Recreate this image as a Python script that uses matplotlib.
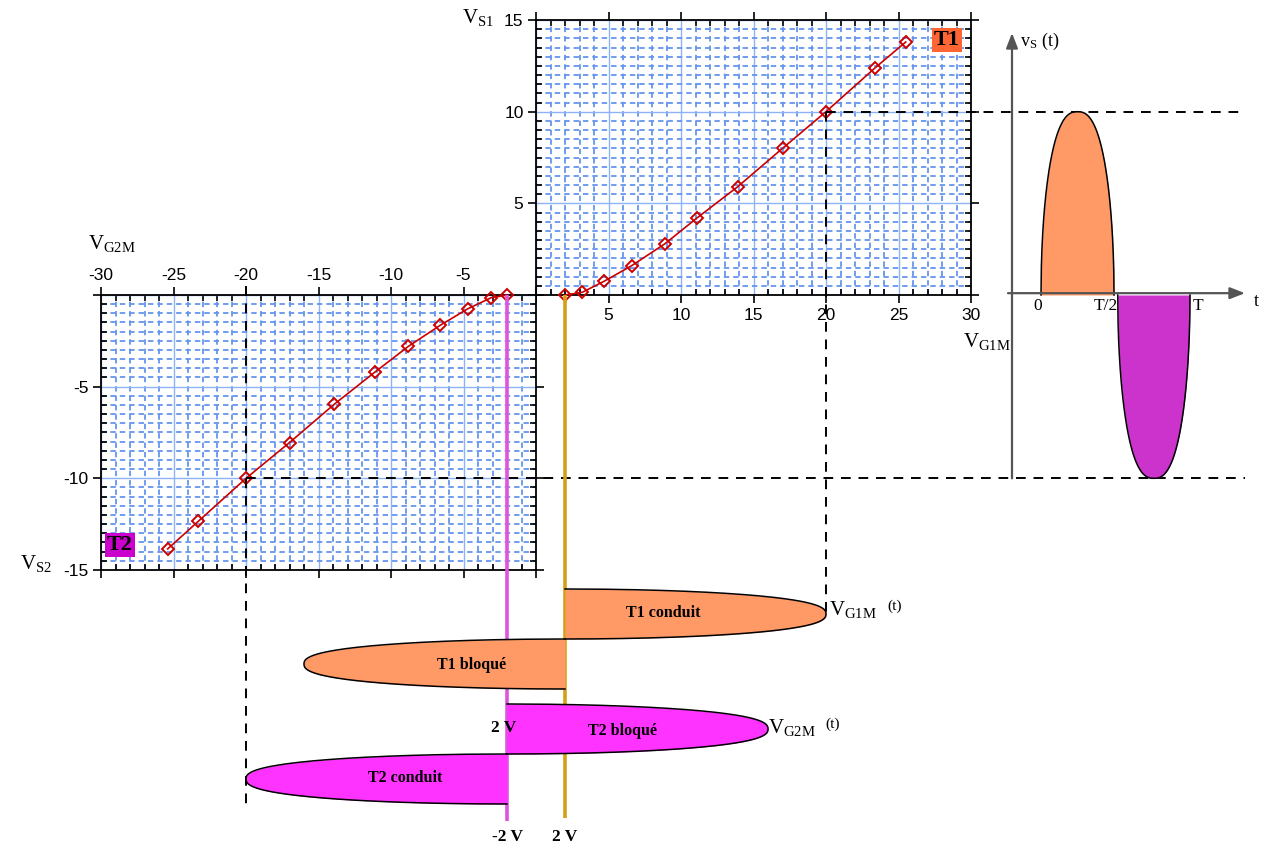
import numpy as np
import matplotlib.pyplot as plt
from matplotlib.ticker import MultipleLocator, FuncFormatter

# transfer characteristic of T1 : V_S1 as a function of V_G1M
vg1m = [2.0, 3.2, 4.7, 6.6, 8.9, 11.1, 13.9, 17.0, 20.0, 23.4, 25.5]
vs1 = [0.0, 0.15, 0.75, 1.6, 2.8, 4.2, 5.9, 8.0, 10.0, 12.4, 13.8]

# transfer characteristic of T2 : V_S2 as a function of V_G2M
vg2m = [-2.0, -3.1, -4.7, -6.6, -8.8, -11.1, -13.9, -17.0, -20.0, -23.3, -25.4]
vs2 = [0.0, -0.15, -0.75, -1.65, -2.8, -4.2, -5.95, -8.05, -10.0, -12.35, -13.85]

v_th = 2.0       # seuil de conduction (V)
vg_amp = 18.0    # amplitude des tensions de grille au-dessus du seuil
vg_peak = 20.0
vs_peak = 10.0

plt.rcParams['font.family'] = 'Liberation Serif'
plt.rcParams['mathtext.fontset'] = 'custom'
plt.rcParams['mathtext.rm'] = 'Liberation Serif'

W, H = 1265, 850
fig = plt.figure(figsize=(W / 100, H / 100), dpi=100)

# pixel layout : origin of both characteristics and scale in px per volt
X0, Y0 = 536, 295
PX_V, PY_V = 14.5, 18.333


def rect(v0, v1, s0, s1):
    left = (X0 + v0 * PX_V) / W
    bottom = 1 - (Y0 - s0 * PY_V) / H
    return [left, bottom, (v1 - v0) * PX_V / W, (s1 - s0) * PY_V / H]


def ftxt(px, py, s, **kw):
    kw.setdefault('ha', 'center')
    kw.setdefault('va', 'center')
    fig.text(px / W, 1 - py / H, s, **kw)


def no_zero(v, pos):
    return '' if abs(v) < 1e-9 else '%g' % v


def style_panel(ax, xtop):
    ax.xaxis.set_major_locator(MultipleLocator(5))
    ax.xaxis.set_minor_locator(MultipleLocator(1))
    ax.yaxis.set_major_locator(MultipleLocator(5))
    ax.yaxis.set_minor_locator(MultipleLocator(0.5))
    ax.xaxis.set_major_formatter(FuncFormatter(no_zero))
    ax.yaxis.set_major_formatter(FuncFormatter(no_zero))
    ax.grid(which='minor', color='#6495ed', lw=1.3, ls=(0, (3, 2.2)))
    ax.grid(which='major', color='#8db2f5', lw=1.0, ls='-')
    ax.tick_params(which='major', direction='out', length=6, width=1.2,
                   top=True, right=True, labelsize=12.5, pad=3)
    ax.tick_params(which='minor', direction='in', length=4, width=1.2,
                   top=True, right=True)
    ax.tick_params(labeltop=xtop, labelbottom=not xtop)
    for lab in ax.get_xticklabels() + ax.get_yticklabels():
        lab.set_family('Liberation Sans')
    for sp in ax.spines.values():
        sp.set_linewidth(1.3)
    ax.set_axisbelow(True)


# --- T1 characteristic ---
ax1 = fig.add_axes(rect(0, 30, 0, 15))
ax1.set_xlim(0, 30)
ax1.set_ylim(0, 15)
style_panel(ax1, xtop=False)
ax1.plot(vg1m, vs1, color='#cc0000', lw=1.2, marker='D', ms=6,
         mfc='none', mec='#cc0000', mew=1.4, clip_on=False, zorder=5)
ax1.text(28.35, 13.9, 'T1', fontsize=16, fontweight='bold', ha='center',
         va='center', bbox=dict(boxstyle='square,pad=0.1', fc='#ff6633', ec='none'))

# --- T2 characteristic ---
ax2 = fig.add_axes(rect(-30, 0, -15, 0))
ax2.set_xlim(-30, 0)
ax2.set_ylim(-15, 0)
style_panel(ax2, xtop=True)
ax2.plot(vg2m, vs2, color='#cc0000', lw=1.2, marker='D', ms=6,
         mfc='none', mec='#cc0000', mew=1.4, clip_on=False, zorder=5)
ax2.text(-28.7, -13.65, 'T2', fontsize=16, fontweight='bold', ha='center',
         va='center', bbox=dict(boxstyle='square,pad=0.1', fc='#cc00cc', ec='none'))

# --- overlay in volts (same scale as both characteristics) ---
ax0 = fig.add_axes([0, 0, 1, 1])
ax0.set_xlim(-X0 / PX_V, (W - X0) / PX_V)
ax0.set_ylim((Y0 - H) / PY_V, Y0 / PY_V)
ax0.axis('off')
ax0.patch.set_visible(False)

dash = dict(color='black', lw=1.4, ls=(0, (5, 4)))
x_right = (1245 - X0) / PX_V
ax0.plot([vg_peak, x_right], [vs_peak, vs_peak], **dash)
ax0.plot([-vg_peak, x_right], [-vs_peak, -vs_peak], **dash)
ax0.plot([vg_peak, vg_peak], [vs_peak, (Y0 - 615) / PY_V], **dash)
ax0.plot([-vg_peak, -vg_peak], [0.5, (Y0 - 810) / PY_V], **dash)

ax0.plot([-v_th, -v_th], [0, (Y0 - 821) / PY_V], color='#dd55dd', lw=2.6,
         solid_capstyle='butt')
ax0.plot([v_th, v_th], [0, (Y0 - 818) / PY_V], color='#d4a017', lw=2.6,
         solid_capstyle='butt')

# --- gate voltages vs time (time downwards, in periods) ---
axg = fig.add_axes([0, 0, 1, 1])
axg.set_xlim(ax0.get_xlim())
axg.set_ylim((H - 589) / 100, -589 / 100)
axg.axis('off')
axg.patch.set_visible(False)


def lobe(ax, t0, t1, base, amp, color):
    t = np.linspace(t0, t1, 400)
    u = (2 * t - t0 - t1) / (t1 - t0)
    v = base + amp * np.sqrt(np.clip(1 - np.abs(u) ** 2.5, 0, None))
    ax.fill_betweenx(t, base, v, color=color, lw=0)
    ax.plot(v, t, color='black', lw=1.1)


lobe(axg, 0.0, 0.5, v_th, vg_amp, '#ff9966')
lobe(axg, 0.5, 1.0, v_th, -vg_amp, '#ff9966')
lobe(axg, 1.15, 1.65, -v_th, vg_amp, '#ff33ff')
lobe(axg, 1.65, 2.15, -v_th, -vg_amp, '#ff33ff')

# --- output voltage vs time ---
axt = fig.add_axes([0, 0, 1, 1])
axt.set_xlim(-1041 / 149, (W - 1041) / 149)
axt.set_ylim(ax0.get_ylim())
axt.axis('off')
axt.patch.set_visible(False)


def vlobe(ax, t0, t1, amp, color):
    t = np.linspace(t0, t1, 400)
    u = (2 * t - t0 - t1) / (t1 - t0)
    v = amp * np.sqrt(np.clip(1 - np.abs(u) ** 2.5, 0, None))
    ax.fill_between(t, 0, v, color=color, lw=0)
    ax.plot(t, v, color='black', lw=1.1)


vlobe(axt, 0.0, 0.49, vs_peak, '#ff9966')
vlobe(axt, 0.515, 1.0, -vs_peak, '#cc33cc')

arr = dict(arrowstyle='-|>,head_length=0.9,head_width=0.35', color='#555555',
           lw=1.6, shrinkA=0, shrinkB=0)
t_ax = (1012 - 1041) / 149
axt.annotate('', xy=(t_ax, (Y0 - 33) / PY_V), xytext=(t_ax, -vs_peak),
             arrowprops=arr)
axt.annotate('', xy=((1245 - 1041) / 149, 0.1), xytext=((1008 - 1041) / 149, 0.1),
             arrowprops=arr)

# --- labels ---
ftxt(478, 18, r'$\mathrm{V_{S1}}$', fontsize=15)
ftxt(112, 243, r'$\mathrm{V_{G2M}}$', fontsize=15)
ftxt(987, 342, r'$\mathrm{V_{G1M}}$', fontsize=15)
ftxt(36, 564, r'$\mathrm{V_{S2}}$', fontsize=15)
ftxt(829, 609, r'$\mathrm{V_{G1M}}$', fontsize=15, ha='left')
ftxt(887, 606, '(t)', fontsize=11, ha='left')
ftxt(768, 727, r'$\mathrm{V_{G2M}}$', fontsize=15, ha='left')
ftxt(825, 724, '(t)', fontsize=11, ha='left')
ftxt(1020, 41, r'$\mathrm{v_S}$ (t)', fontsize=13, ha='left')
ftxt(1256, 302, 't', fontsize=13)
ftxt(1038, 306, '0', fontsize=12.5)
ftxt(1106, 306, 'T/2', fontsize=12.5)
ftxt(1198, 306, 'T', fontsize=12.5)

bold = dict(fontsize=12.5, fontweight='bold')
ftxt(504, 728, '2 V', **bold)
ftxt(507, 837, '-2 V', **bold)
ftxt(565, 837, '2 V', **bold)

lob = dict(fontsize=11.5, fontweight='bold')
ftxt(663, 613, 'T1 conduit', **lob)
ftxt(472, 665, 'T1 bloqué', **lob)
ftxt(622, 731, 'T2 bloqué', **lob)
ftxt(405, 778, 'T2 conduit', **lob)

fig.savefig('out.png', dpi=100)
